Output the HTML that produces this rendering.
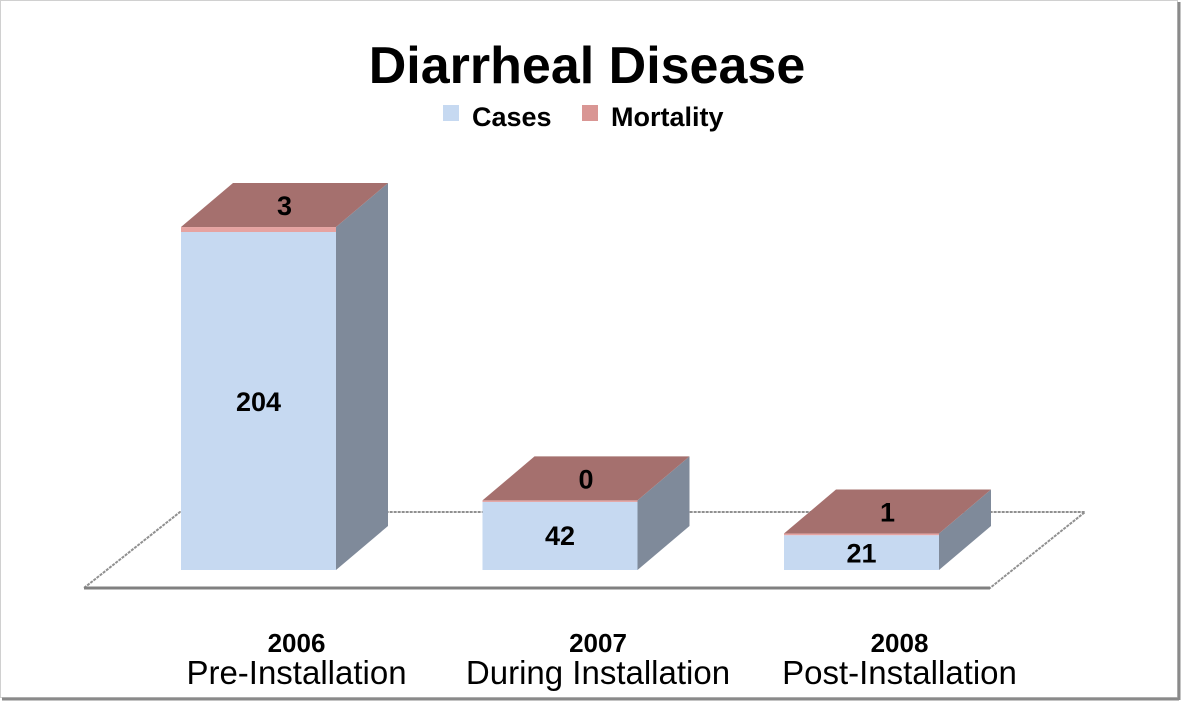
<!DOCTYPE html>
<html><head><meta charset="utf-8"><style>
body{margin:0;background:#fff}
svg{display:block;font-family:"Liberation Sans",sans-serif}
</style></head><body>
<svg width="1182" height="703" viewBox="0 0 1182 703">
<rect x="0.5" y="0.5" width="1177" height="697" fill="#fff" stroke="#d0d0d0"/>
<line x1="1179" y1="2" x2="1179" y2="700" stroke="#8a8a8a" stroke-width="3"/>
<line x1="2" y1="699" x2="1179" y2="699" stroke="#8a8a8a" stroke-width="3"/>
<text x="587" y="83" text-anchor="middle" font-size="52" font-weight="bold">Diarrheal Disease</text>
<g>
<rect x="443" y="105" width="16" height="16" fill="#c6d9f1"/>
<text x="472" y="126" font-size="27" font-weight="bold">Cases</text>
<rect x="582" y="105" width="16" height="16" fill="#d99694"/>
<text x="611" y="126" font-size="27" font-weight="bold">Mortality</text>
</g>
<polygon points="84,588 990,588 1085,512 180,512" fill="none" stroke="#909090" stroke-width="2" stroke-dasharray="3,1"/>
<line x1="84" y1="588" x2="990" y2="588" stroke="#808080" stroke-width="3"/>
<g id="bars"></g>
<g id="labels"></g>
</svg>
<script>
const categories=["2006","2007","2008"];
const subLabels=["Pre-Installation","During Installation","Post-Installation"];
const cases=[204,42,21];
const mortality=[3,0,1];
const NS="http://www.w3.org/2000/svg";
const baseY=570, scale=338/204, barW=155, dx=52, dy=44;
const barX=i=>181+i*301.5;
const yv=v=>baseY-v*scale;
function mk(t,a,p){const e=document.createElementNS(NS,t);for(const k in a)e.setAttribute(k,a[k]);p.appendChild(e);return e;}
const g=document.getElementById('bars'), lg=document.getElementById('labels');
categories.forEach((c,i)=>{
  const x=barX(i), yc=yv(cases[i]), yt=yv(cases[i]+mortality[i]);
  const side=mk('polygon',{points:`${x+barW},${baseY} ${x+barW+dx},${baseY-dy} ${x+barW+dx},${yt-dy} ${x+barW},${yt}`,fill:'#7f8a9a'},g);
  
  
  const fc=mk('rect',{x:x,y:yc,width:barW,height:baseY-yc,fill:'#c6d9f1'},g);
  
  
  const fm=mk('rect',{x:x,y:yt,width:barW,height:Math.max(yc-yt,1.5),fill:'#e6a3a1'},g);
  
  
  const top=mk('polygon',{points:`${x},${yt} ${x+barW},${yt} ${x+barW+dx},${yt-dy} ${x+dx},${yt-dy}`,fill:'#a5706e'},g);
  
  
  const tv=mk('text',{x:x+barW/2,y:(yc+baseY)/2+10,'text-anchor':'middle','font-size':27,'font-weight':'bold'},lg);
  tv.textContent=cases[i];
  
  
  const tm=mk('text',{x:x+barW/2+dx/2,y:yt-dy/2+10,'text-anchor':'middle','font-size':27,'font-weight':'bold'},lg);
  tm.textContent=mortality[i];
  
  
  const cx=x+barW/2+38;
  const yl=mk('text',{x:cx,y:652,'text-anchor':'middle','font-size':26,'font-weight':'bold'},lg);
  yl.textContent=c;
  
  
  const sl=mk('text',{x:cx,y:684,'text-anchor':'middle','font-size':33},lg);
  sl.textContent=subLabels[i];
  
  
});
</script>
</body></html>
